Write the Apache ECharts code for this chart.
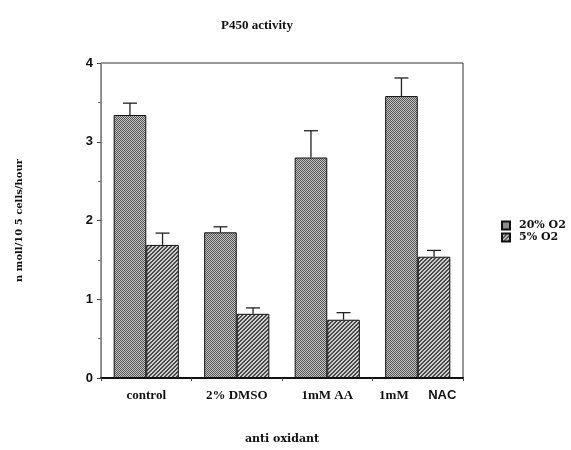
<!DOCTYPE html>
<html><head><meta charset="utf-8">
<script src="https://cdn.jsdelivr.net/npm/echarts@6/dist/echarts.min.js"></script>
<style>html,body{margin:0;padding:0;background:#fff}#c{width:571px;height:450px}</style>
</head><body><div id="c"></div>
<script>
const categories = ['control', '2% DMSO', '1mM AA', '1mM NAC'];
const seriesNames = ['20% O2', '5% O2'];
const values20 = [3.34, 1.85, 2.80, 3.58];
const err20 = [3.49, 1.92, 3.14, 3.81];
const values5 = [1.69, 0.815, 0.74, 1.54];
const err5 = [1.84, 0.89, 0.83, 1.62];
const yTicks = [0, 1, 2, 3, 4];

function makePattern(kind) {
  const c = document.createElement('canvas');
  const n = 4; c.width = n; c.height = n;
  const ctx = c.getContext('2d');
  for (let x = 0; x < n; x++) for (let y = 0; y < n; y++) {
    let col;
    if (kind === 'dots') col = ((x + y) % 2 === 0) ? '#555555' : '#c4c4c4';
    else col = ((x + y) % 4 === 0 || (x + y) % 4 === 1) ? '#4a4a4a' : '#cccccc';
    ctx.fillStyle = col; ctx.fillRect(x, y, 1, 1);
  }
  return { image: c, repeat: 'repeat' };
}
const pat20 = makePattern('dots');
const pat5 = makePattern('stripes');
const BW = 0.36;

function errSeries(vals, errs, side) {
  return {
    type: 'custom', silent: true, z: 5,
    data: vals.map((v, i) => [i, v, errs[i]]),
    renderItem: function (params, api) {
      const band = api.size([1, 0])[0];
      const bw = band * BW;
      const cx = api.coord([api.value(0), 0])[0] + side * bw / 2;
      const y0 = api.coord([api.value(0), api.value(1)])[1];
      const y1 = api.coord([api.value(0), api.value(2)])[1];
      const cap = 7;
      return { type: 'group', children: [
        { type: 'line', shape: { x1: cx, y1: y0, x2: cx, y2: y1 }, style: { stroke: '#222', lineWidth: 1.3 } },
        { type: 'line', shape: { x1: cx - cap, y1: y1, x2: cx + cap, y2: y1 }, style: { stroke: '#222', lineWidth: 1.3 } }
      ]};
    }
  };
}

const chart = echarts.init(document.getElementById('c'), null, { renderer: 'canvas' });
chart.setOption({
  animation: false,
  backgroundColor: '#fff',
  title: { text: 'P450 activity', left: 252, top: 14, textAlign: 'center',
    textStyle: { fontFamily: 'Liberation Serif', fontWeight: 'bold', fontSize: 13, color: '#111' } },
  legend: {
    orient: 'vertical', left: 501, top: 220, itemWidth: 8, itemHeight: 8, itemGap: 1, padding: 0,
    icon: 'rect', data: seriesNames,
    textStyle: { fontFamily: 'DejaVu Serif', fontWeight: 'bold', fontSize: 11, lineHeight: 9, color: '#111', padding: [0, 0, 0, 4] }
  },
  grid: { left: 101, right: 108, top: 63, bottom: 63, show: true, borderColor: '#333', borderWidth: 1, backgroundColor: 'transparent' },
  xAxis: {
    type: 'category', data: categories,
    name: 'anti oxidant', nameLocation: 'middle', nameGap: 56,
    nameTextStyle: { fontFamily: 'DejaVu Serif', fontWeight: 'bold', fontSize: 11, color: '#111' },
    axisLine: { lineStyle: { color: '#111', width: 2 } },
    axisTick: { show: true, length: 3, lineStyle: { color: '#444' } },
    axisLabel: {
      interval: 0, margin: 11, color: '#111', fontFamily: 'Liberation Serif', fontWeight: 'bold', fontSize: 13,
      formatter: function (v) { return v === '1mM NAC' ? '1mM      {b|NAC}' : v; },
      rich: { b: { fontFamily: 'Liberation Sans', fontWeight: 'bold', fontSize: 13, color: '#111' } }
    }
  },
  yAxis: {
    type: 'value', min: 0, max: 4, interval: 1,
    name: 'n moll/10 5 cells/hour', nameLocation: 'middle', nameGap: 77, nameRotate: 90,
    nameTextStyle: { fontFamily: 'DejaVu Serif', fontWeight: 'bold', fontSize: 10, color: '#111' },
    axisLine: { show: true, lineStyle: { color: '#888', width: 1 } },
    axisTick: { show: true, length: 4, lineStyle: { color: '#444' } },
    minorTick: { show: true, splitNumber: 2, length: 3, lineStyle: { color: '#666' } },
    splitLine: { show: false },
    axisLabel: { margin: 8, color: '#111', fontFamily: 'Liberation Sans', fontWeight: 'bold', fontSize: 13,
      formatter: function (v) { return yTicks.indexOf(v) >= 0 ? String(v) : ''; } }
  },
  series: [
    { name: seriesNames[0], type: 'bar', data: values20, barWidth: (BW * 100) + '%', barGap: '0%',
      itemStyle: { color: pat20, borderColor: '#111', borderWidth: 1 } },
    { name: seriesNames[1], type: 'bar', data: values5, barWidth: (BW * 100) + '%', barGap: '0%',
      itemStyle: { color: pat5, borderColor: '#111', borderWidth: 1 } },
    errSeries(values20, err20, -1),
    errSeries(values5, err5, 1)
  ]
});
</script></body></html>
